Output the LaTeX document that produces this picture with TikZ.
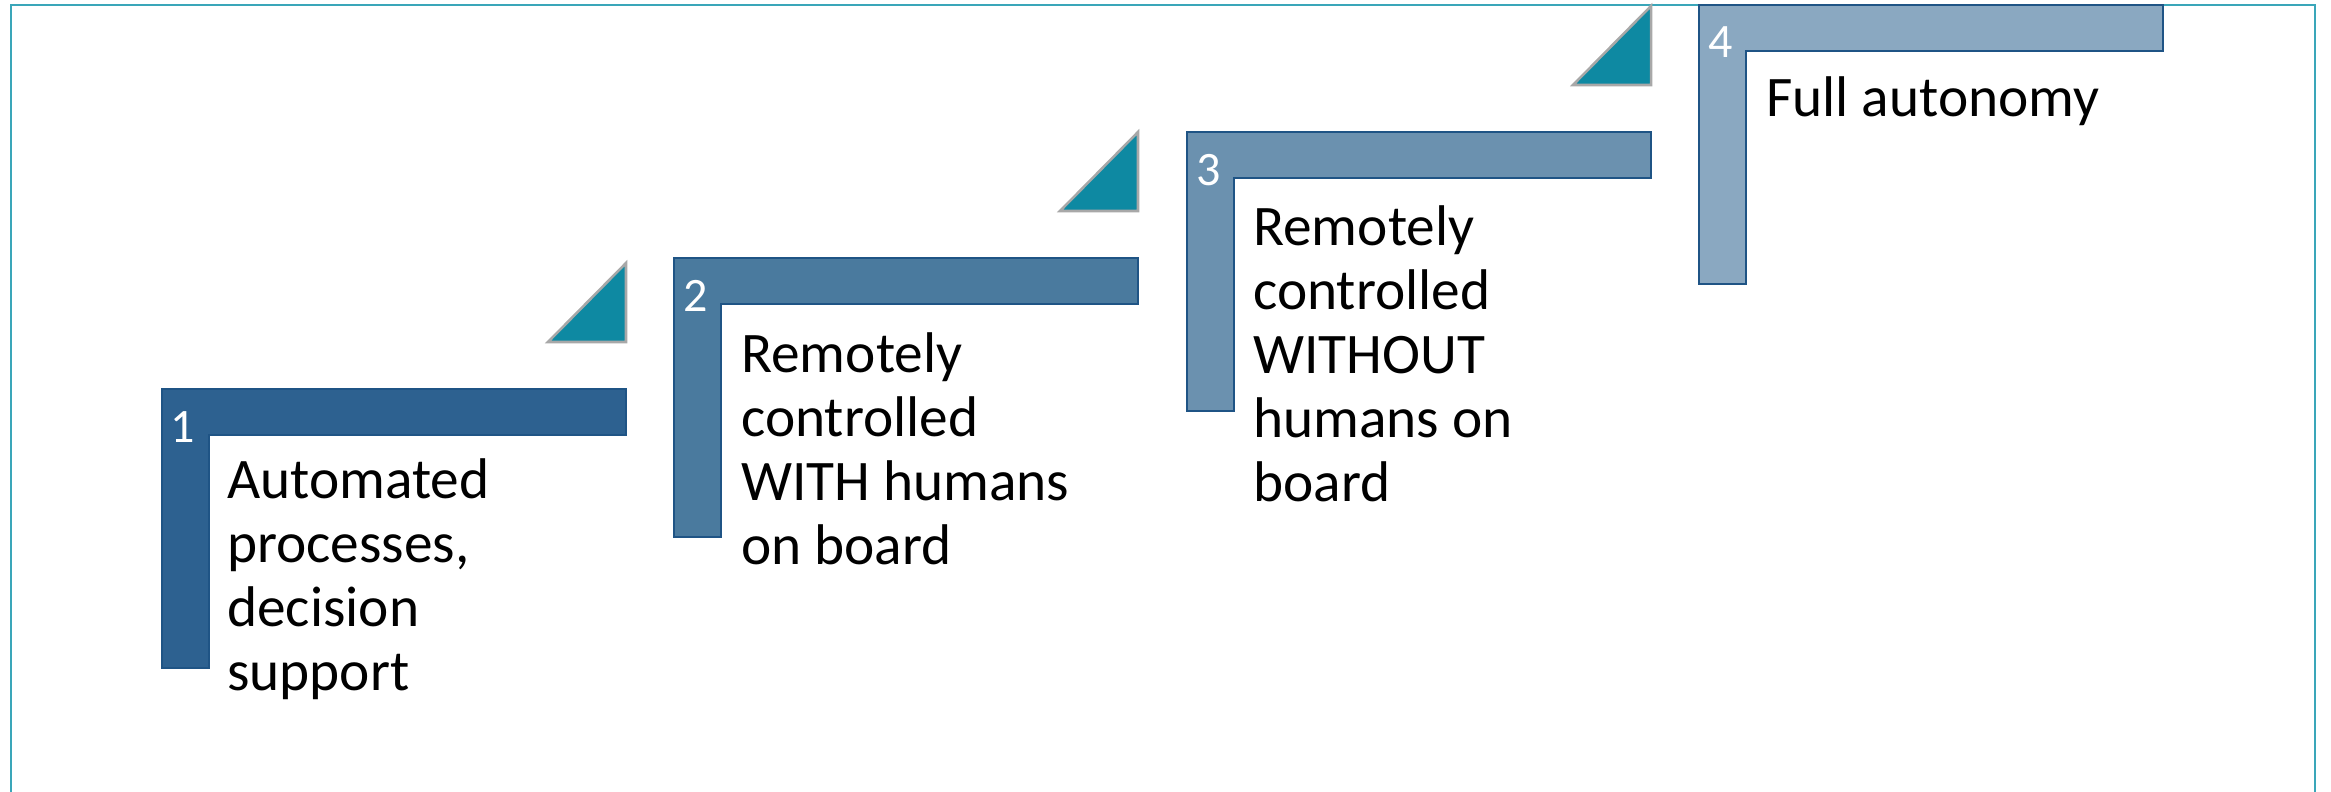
\documentclass[tikz,border=0pt]{standalone}
\usepackage{fontspec}
\setmainfont{Carlito}
\definecolor{frameC}{HTML}{3AA6B9}
\definecolor{edgeC}{HTML}{1F5485}
\definecolor{sA}{HTML}{2D6190}
\definecolor{sB}{HTML}{4A7A9E}
\definecolor{sC}{HTML}{6B91AF}
\definecolor{sD}{HTML}{8AA8C1}
\definecolor{triC}{HTML}{0E89A2}
\definecolor{triE}{HTML}{A8A8A8}
\tikzset{
  stepshape/.style={draw=edgeC, line width=1.6pt, line join=miter},
  tri/.style={fill=triC, draw=triE, line width=1.9pt, line join=miter},
  steplabel/.style={anchor=base west, align=left, inner sep=0pt, font=\fontsize{43}{48}\selectfont, text=black},
  stepnum/.style={anchor=base west, inner sep=0pt, font=\fontsize{36}{42}\selectfont, text=white},
}
\newcommand{\stepL}[3]{% left, top, colour
  \fill[#3] (#1,#2) -- ++(464,0) -- ++(0,46) -- ++(-417,0) -- ++(0,233) -- ++(-47,0) -- cycle;
  \draw[stepshape] (#1,#2) -- ++(464,0) -- ++(0,46) -- ++(-417,0) -- ++(0,233) -- ++(-47,0) -- cycle;
  \draw[tri] (#1+386,#2-47) -- (#1+464,#2-47) -- (#1+464,#2-126) -- cycle;
}
\begin{document}
\begin{tikzpicture}[x=0.75pt,y=-0.75pt]
\useasboundingbox (0,0) rectangle (2331,792);
\draw[frameC, line width=1.5pt] (11,800) -- (11,5) -- (2315,5) -- (2315,800);
\stepL{162}{389}{sA}
\stepL{674}{258}{sB}
\stepL{1187}{132}{sC}
\stepL{1699}{5}{sD}
\node[stepnum] (n1) at (170,442) {1};
\node[stepnum] (n2) at (683,311) {2};
\node[stepnum] (n3) at (1196,185) {3};
\node[stepnum] (n4) at (1708,58) {4};
% base anchor = baseline of the last line (first baseline + (lines-1)*64)
\node[steplabel] (t1) at (227,690) {Automated\\processes,\\decision\\support};
\node[steplabel] (t2) at (741,564) {Remotely\\controlled\\WITH humans\\on board};
\node[steplabel] (t3) at (1253,501) {Remotely\\controlled\\WITHOUT\\humans on\\board};
\node[steplabel] (t4) at (1766,117) {Full autonomy};
\end{tikzpicture}
\end{document}
